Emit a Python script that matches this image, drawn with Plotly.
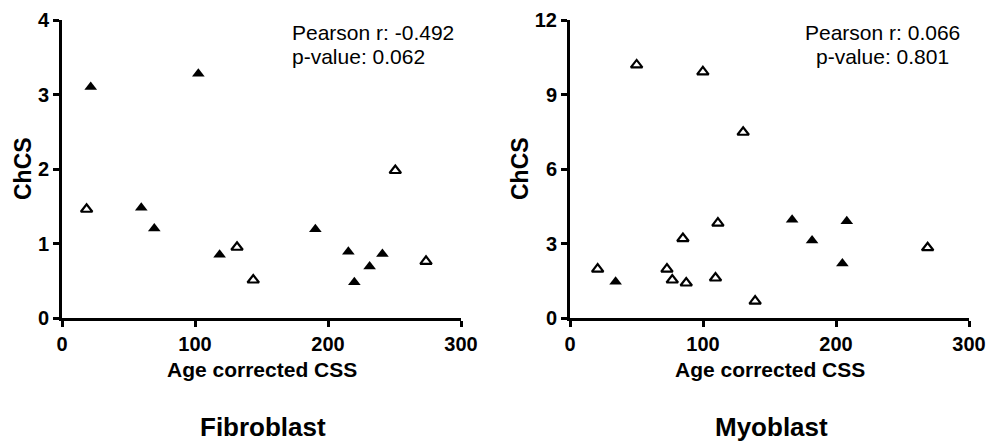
import plotly.graph_objects as go

# Fibroblast panel
fib_filled_x = [21.6, 102.5, 59.6, 69.4, 118.5, 190.5, 215.3, 219.8, 231.3, 240.9]
fib_filled_y = [3.10, 3.28, 1.48, 1.20, 0.85, 1.19, 0.89, 0.48, 0.69, 0.86]
fib_open_x = [18.5, 131.6, 143.8, 250.6, 273.7]
fib_open_y = [1.46, 0.95, 0.51, 1.98, 0.76]

# Myoblast panel
myo_filled_x = [34.3, 167.0, 182.0, 204.8, 208.1]
myo_filled_y = [1.46, 3.96, 3.12, 2.19, 3.90]
myo_open_x = [20.8, 50.1, 99.9, 130.2, 72.9, 76.9, 84.9, 87.4, 111.2, 109.4, 139.2, 268.9]
myo_open_y = [1.97, 10.19, 9.91, 7.48, 1.97, 1.53, 3.20, 1.41, 3.82, 1.61, 0.68, 2.83]

fib_yticks = [0, 1, 2, 3, 4]
myo_yticks = [0, 3, 6, 9, 12]
xticks = [0, 100, 200, 300]

panel_titles = ["Fibroblast", "Myoblast"]
stats_left = ["Pearson r: -0.492", "p-value: 0.062"]
stats_right = ["Pearson r: 0.066", "p-value: 0.801"]

W, H = 993, 442
FONT = "Liberation Sans, Arial, Helvetica, sans-serif"

fig = go.Figure()

def add(x, y, xa, ya, filled):
    fig.add_trace(go.Scatter(
        x=x, y=y, mode="markers", xaxis=xa, yaxis=ya, showlegend=False,
        cliponaxis=False,
        marker=dict(symbol="triangle-up" if filled else "triangle-up-open",
                    size=11 if filled else 10, color="black",
                    line=dict(width=0 if filled else 2.2, color="black")),
    ))

add(fib_filled_x, fib_filled_y, "x", "y", True)
add(fib_open_x, fib_open_y, "x", "y", False)
add(myo_filled_x, myo_filled_y, "x2", "y2", True)
add(myo_open_x, myo_open_y, "x2", "y2", False)

def px_x(p):
    return p / W

def px_y(p):
    return (H - p) / H

ydom = [px_y(318), px_y(20)]
axis_common = dict(showline=True, linewidth=3, linecolor="black", ticks="outside",
                   ticklen=6, tickwidth=3, tickcolor="black", showgrid=False,
                   zeroline=False, mirror=False, automargin=False,
                   tickfont=dict(family=FONT, size=20, color="black", weight="bold"))

fig.update_layout(
    width=W, height=H, margin=dict(l=0, r=0, t=0, b=0, autoexpand=False),
    paper_bgcolor="white", plot_bgcolor="white",
    xaxis=dict(domain=[px_x(62), px_x(461)], range=[0, 300], tickvals=xticks,
               anchor="y", **axis_common),
    yaxis=dict(domain=ydom, range=[0, 4], tickvals=fib_yticks, anchor="x",
               **axis_common),
    xaxis2=dict(domain=[px_x(570), px_x(969)], range=[0, 300], tickvals=xticks,
                anchor="y2", **axis_common),
    yaxis2=dict(domain=ydom, range=[0, 12], tickvals=myo_yticks, anchor="x2",
                **axis_common),
)

anns = []
# axis titles
for cx in (262, 770):
    anns.append(dict(text="Age corrected CSS", x=px_x(cx), y=px_y(369), xref="paper", yref="paper",
                     showarrow=False, xanchor="center", yanchor="middle",
                     font=dict(family=FONT, size=21, color="black", weight="bold")))
for cx in (23, 520):
    anns.append(dict(text="ChCS", x=px_x(cx), y=px_y(169), xref="paper", yref="paper",
                     showarrow=False, xanchor="center", yanchor="middle", textangle=-90,
                     font=dict(family=FONT, size=23, color="black", weight="bold")))
# panel titles
for cx, t in zip((263, 771), panel_titles):
    anns.append(dict(text=t, x=px_x(cx), y=px_y(427), xref="paper", yref="paper",
                     showarrow=False, xanchor="center", yanchor="middle",
                     font=dict(family=FONT, size=26, color="black", weight="bold")))
# stats
for i, t in enumerate(stats_left):
    anns.append(dict(text=t, x=px_x(290), y=px_y(33 + 24 * i), xref="paper", yref="paper",
                     showarrow=False, xanchor="left", yanchor="middle",
                     font=dict(family=FONT, size=21, color="black")))
for i, t in enumerate(stats_right):
    anns.append(dict(text=t, x=px_x(882), y=px_y(33 + 24 * i), xref="paper", yref="paper",
                     showarrow=False, xanchor="center", yanchor="middle",
                     font=dict(family=FONT, size=21, color="black")))
fig.update_layout(annotations=anns)

fig.write_html("out.html", config={"displayModeBar": False},
               post_script="document.body.style.margin='0';document.body.style.overflow='hidden';")
